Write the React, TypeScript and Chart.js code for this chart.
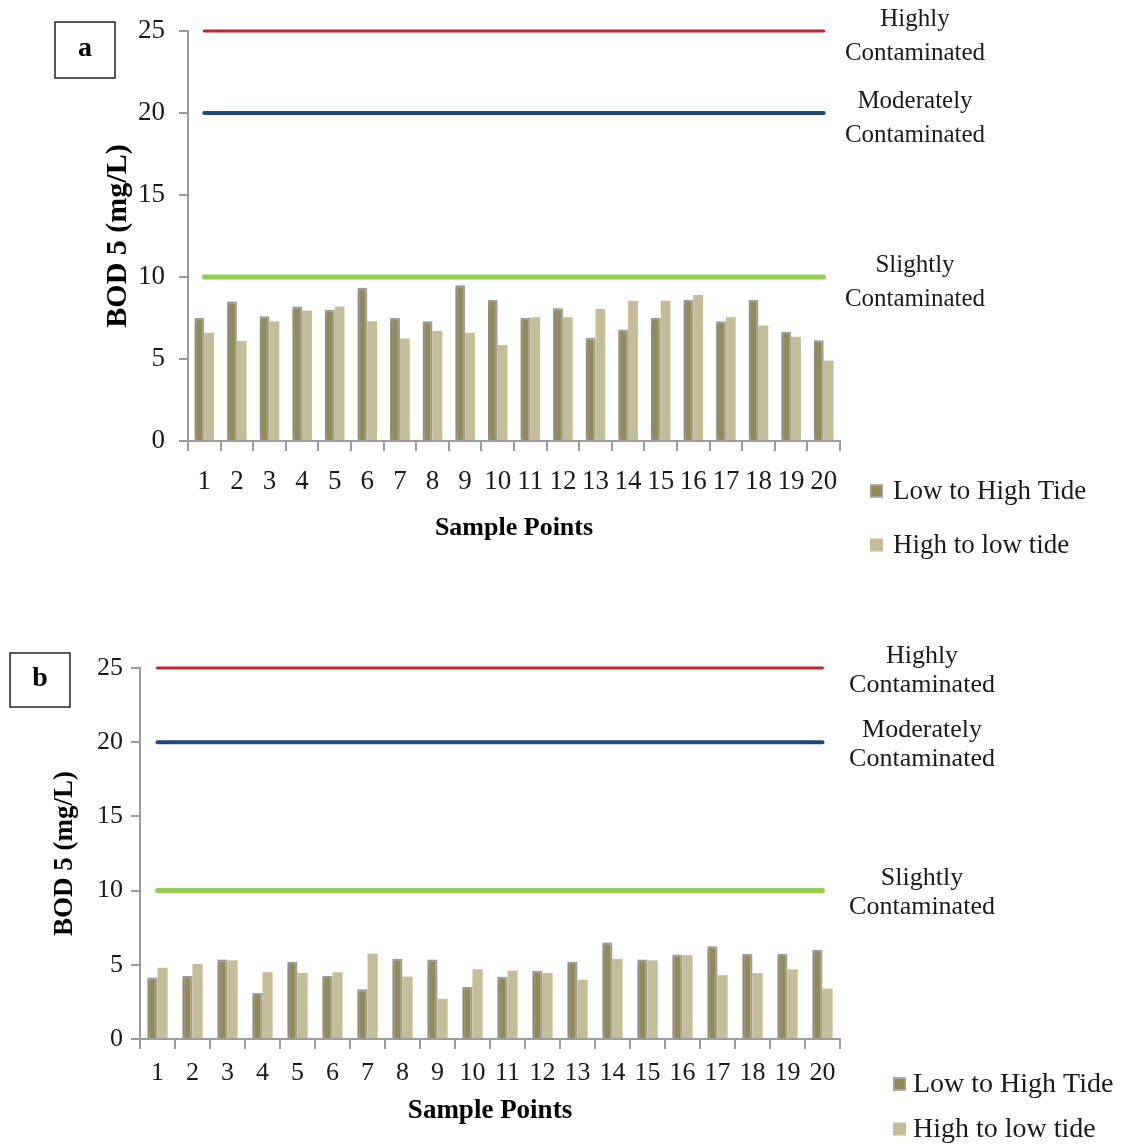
import { useEffect, useRef } from 'react';
import { Chart, registerables } from 'chart.js';

Chart.register(...registerables);

const SERIF = '"Liberation Serif", "Times New Roman", Times, serif';

const categories = ['1', '2', '3', '4', '5', '6', '7', '8', '9', '10', '11', '12', '13', '14', '15', '16', '17', '18', '19', '20'];

const seriesLabels = ['Low to High Tide', 'High to low tide'];

const lowToHighA = [7.5, 8.5, 7.6, 8.2, 8.0, 9.35, 7.5, 7.3, 9.5, 8.6, 7.5, 8.1, 6.3, 6.8, 7.5, 8.6, 7.3, 8.6, 6.65, 6.15];
const highToLowA = [6.6, 6.1, 7.3, 7.95, 8.2, 7.3, 6.25, 6.7, 6.6, 5.85, 7.55, 7.55, 8.05, 8.55, 8.55, 8.9, 7.55, 7.05, 6.35, 4.9];

const lowToHighB = [4.15, 4.25, 5.35, 3.1, 5.2, 4.25, 3.35, 5.4, 5.35, 3.5, 4.2, 4.6, 5.2, 6.5, 5.35, 5.7, 6.25, 5.75, 5.75, 6.0];
const highToLowB = [4.8, 5.05, 5.3, 4.5, 4.45, 4.5, 5.75, 4.2, 2.7, 4.7, 4.6, 4.45, 4.0, 5.4, 5.3, 5.65, 4.3, 4.45, 4.7, 3.4];

const thresholdValues = [25, 20, 10];
const thresholdNames = [
  ['Highly', 'Contaminated'],
  ['Moderately', 'Contaminated'],
  ['Slightly', 'Contaminated'],
];
const thresholdColors = ['#C0262D', '#1F497D', '#92D050'];
const thresholdWidths = [3, 4, 5];

const yMin = 0;
const yMax = 25;
const yStep = 5;

const DARK = '#948A54';
const DARK_BORDER = '#A5A5A5';
const LIGHT = '#C4BD97';
const AXIS = '#9C9C9C';
const TEXT = '#1A1A1A';

type PanelCfg = {
  top: number;
  height: number;
  letter: string;
  low: number[];
  high: number[];
  padTop: number;
  padBottom: number;
  yWidth: number;
  xHeight: number;
  catPct: number;
  tickFont: number;
  tickPadX: number;
  tickPadY: number;
  yTitleFont: number;
  yTitlePad: number;
  xTitleFont: number;
  xTitlePad: number;
  box: { x: number; y: number; w: number; h: number };
  labelX: number;
  labelFont: number;
  labelOffsets: [number, number];
  legend: { sqX: number; textX: number; ys: number[]; font: number; sq: number };
};

const panels: PanelCfg[] = [
  {
    top: 0,
    height: 570,
    letter: 'a',
    low: lowToHighA,
    high: highToLowA,
    padTop: 31,
    padBottom: 9,
    yWidth: 188,
    xHeight: 120,
    catPct: 0.6,
    tickFont: 27,
    tickPadX: 14,
    tickPadY: 15,
    yTitleFont: 30,
    yTitlePad: 100,
    xTitleFont: 26,
    xTitlePad: 17,
    box: { x: 55, y: 22, w: 60, h: 56 },
    labelX: 915,
    labelFont: 25,
    labelOffsets: [-12, 22],
    legend: { sqX: 870, textX: 893, ys: [491, 545], font: 27, sq: 13 },
  },
  {
    top: 600,
    height: 544,
    letter: 'b',
    low: lowToHighB,
    high: highToLowB,
    padTop: 68,
    padBottom: 10,
    yWidth: 140,
    xHeight: 95,
    catPct: 0.58,
    tickFont: 26,
    tickPadX: 8,
    tickPadY: 9,
    yTitleFont: 27,
    yTitlePad: 49,
    xTitleFont: 27,
    xTitlePad: 7,
    box: { x: 10, y: 53, w: 60, h: 54 },
    labelX: 922,
    labelFont: 26,
    labelOffsets: [-12, 17],
    legend: { sqX: 893, textX: 913, ys: [484, 529], font: 28, sq: 13 },
  },
];

function Panel({ cfg }: { cfg: PanelCfg }) {
  const ref = useRef<HTMLCanvasElement>(null);

  useEffect(() => {
    const canvas = ref.current;
    if (!canvas) return;

    const shadowPlugin = {
      id: 'barShadow',
      beforeDatasetDraw(chart: any, args: any) {
        if (args.index === 3) {
          const ctx = chart.ctx;
          ctx.save();
          ctx.shadowColor = 'rgba(0,0,0,0.3)';
          ctx.shadowBlur = 7;
          ctx.shadowOffsetX = -3;
          ctx.shadowOffsetY = 0;
        }
      },
      afterDatasetDraw(chart: any, args: any) {
        if (args.index === 3) chart.ctx.restore();
      },
    };

    const annotPlugin = {
      id: 'annot',
      afterDraw(chart: any) {
        const ctx = chart.ctx as CanvasRenderingContext2D;
        const y = chart.scales.y;
        ctx.save();
        ctx.fillStyle = TEXT;
        ctx.textAlign = 'center';
        ctx.textBaseline = 'middle';
        ctx.font = `${cfg.labelFont}px ${SERIF}`;
        thresholdValues.forEach((v, i) => {
          const py = y.getPixelForValue(v);
          ctx.fillText(thresholdNames[i][0], cfg.labelX, py + cfg.labelOffsets[0]);
          ctx.fillText(thresholdNames[i][1], cfg.labelX, py + cfg.labelOffsets[1]);
        });
        const lg = cfg.legend;
        ctx.textAlign = 'left';
        ctx.font = `${lg.font}px ${SERIF}`;
        seriesLabels.forEach((lab, i) => {
          const cy = lg.ys[i];
          ctx.fillStyle = i === 0 ? DARK : LIGHT;
          ctx.fillRect(lg.sqX, cy - lg.sq / 2, lg.sq, lg.sq);
          if (i === 0) {
            ctx.strokeStyle = DARK_BORDER;
            ctx.lineWidth = 1.5;
            ctx.strokeRect(lg.sqX + 0.75, cy - lg.sq / 2 + 0.75, lg.sq - 1.5, lg.sq - 1.5);
          }
          ctx.fillStyle = TEXT;
          ctx.fillText(lab, lg.textX, cy + 1);
        });
        const b = cfg.box;
        ctx.strokeStyle = '#222';
        ctx.lineWidth = 1.5;
        ctx.strokeRect(b.x, b.y, b.w, b.h);
        ctx.fillStyle = '#000';
        ctx.textAlign = 'center';
        ctx.font = `bold 28px ${SERIF}`;
        ctx.fillText(cfg.letter, b.x + b.w / 2, b.y + b.h / 2 - 1);
        ctx.restore();
      },
    };

    const lineSets = thresholdValues.map((v, i) => ({
      type: 'line' as const,
      label: thresholdNames[i].join(' '),
      data: categories.map(() => v),
      borderColor: thresholdColors[i],
      borderWidth: thresholdWidths[i],
      borderCapStyle: 'round' as const,
      pointRadius: 0,
      fill: false,
      clip: false,
    }));

    const chart = new Chart(canvas, {
      type: 'bar',
      data: {
        labels: categories,
        datasets: [
          ...lineSets,
          {
            type: 'bar' as const,
            label: seriesLabels[0],
            data: cfg.low,
            backgroundColor: DARK,
            borderColor: DARK_BORDER,
            borderWidth: { top: 2, left: 2, right: 2, bottom: 0 },
            categoryPercentage: cfg.catPct,
            barPercentage: 1.0,
          },
          {
            type: 'bar' as const,
            label: seriesLabels[1],
            data: cfg.high,
            backgroundColor: LIGHT,
            borderWidth: 0,
            categoryPercentage: cfg.catPct,
            barPercentage: 1.0,
          },
        ] as any,
      },
      options: {
        responsive: false,
        animation: false,
        devicePixelRatio: 1,
        layout: {
          padding: { left: 0, top: cfg.padTop, right: 286, bottom: cfg.padBottom },
        },
        plugins: {
          legend: { display: false },
          tooltip: { enabled: false },
        },
        scales: {
          x: {
            grid: {
              display: true,
              drawOnChartArea: false,
              drawTicks: true,
              tickLength: 10,
              color: AXIS,
              lineWidth: 2,
              offset: true,
            },
            border: { display: true, color: AXIS, width: 2 },
            ticks: {
              autoSkip: false,
              maxRotation: 0,
              minRotation: 0,
              color: TEXT,
              padding: cfg.tickPadY,
              font: { family: SERIF, size: cfg.tickFont },
            },
            title: {
              display: true,
              text: 'Sample Points',
              color: '#000',
              font: { family: SERIF, size: cfg.xTitleFont, weight: 'bold' },
              padding: { top: 0, bottom: cfg.xTitlePad },
            },
            afterFit: (s: any) => {
              s.height = cfg.xHeight;
            },
          },
          y: {
            min: yMin,
            max: yMax,
            grid: {
              display: true,
              drawOnChartArea: false,
              drawTicks: true,
              tickLength: 9,
              color: AXIS,
              lineWidth: 2,
            },
            border: { display: true, color: AXIS, width: 2 },
            ticks: {
              stepSize: yStep,
              color: TEXT,
              padding: cfg.tickPadX,
              font: { family: SERIF, size: cfg.tickFont },
            },
            title: {
              display: true,
              text: 'BOD 5 (mg/L)',
              color: '#000',
              font: { family: SERIF, size: cfg.yTitleFont, weight: 'bold' },
              padding: { top: cfg.yTitlePad, bottom: 0 },
            },
            afterFit: (s: any) => {
              s.width = cfg.yWidth;
            },
          },
        },
      } as any,
      plugins: [shadowPlugin, annotPlugin],
    });

    return () => chart.destroy();
  }, [cfg]);

  return (
    <canvas
      ref={ref}
      width={1126}
      height={cfg.height}
      style={{ position: 'absolute', left: 0, top: cfg.top, width: 1126, height: cfg.height, display: 'block' }}
    />
  );
}

export default function App() {
  return (
    <div>
      {panels.map((p) => (
        <Panel key={p.letter} cfg={p} />
      ))}
    </div>
  );
}
